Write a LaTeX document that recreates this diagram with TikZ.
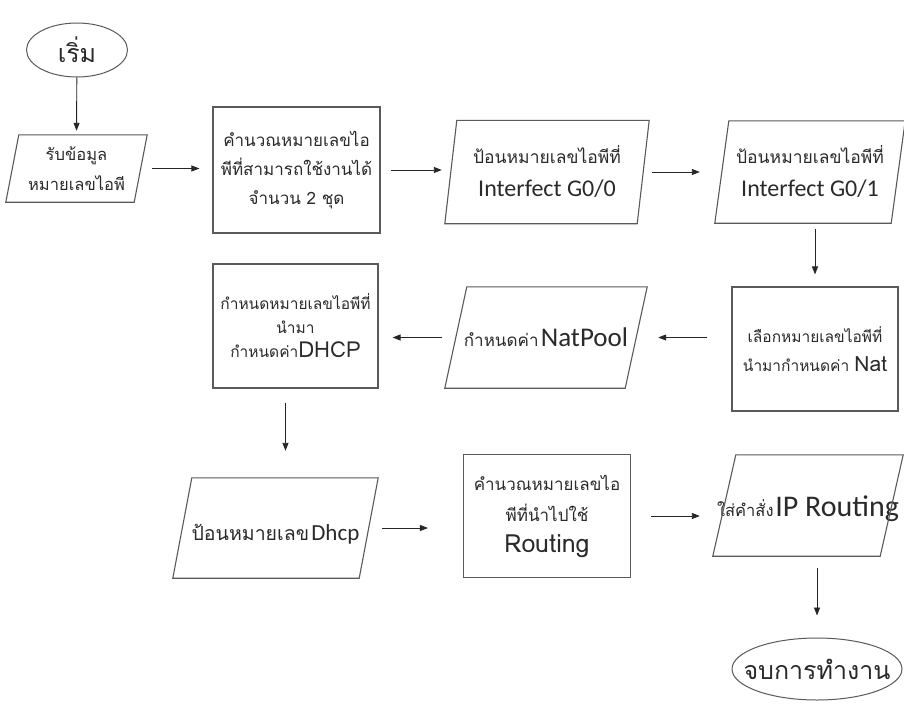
\documentclass[tikz,border=0pt]{standalone}
\usepackage{fontspec}
\setmainfont{Carlito}
\newfontfamily\thai[Script=Thai]{Loma}
\usetikzlibrary{arrows.meta,shapes.geometric}
\definecolor{ink}{HTML}{2A2A2A}
\definecolor{edge}{HTML}{5A5A5A}
\tikzset{
  every node/.style={text=ink, align=center, inner sep=0pt},
  box/.style={draw=edge, line width=1.1pt, minimum width=#1},
  iobox/.style={minimum width=#1},
  oval/.style={draw=edge, line width=1pt, ellipse, inner xsep=-16pt, inner ysep=-4pt},
  arr/.style={draw=black!85, line width=0.9pt, -{Triangle[length=8pt,width=6pt]}},
  io/.style={draw=edge, line width=1.1pt, line join=miter},
}
\newcommand{\thx}[2]{{\thai\fontsize{#1}{#1}\selectfont #2}}
\newcommand{\lat}[2]{{\fontsize{#1}{#1}\selectfont #2}}
\begin{document}
\begin{tikzpicture}[x=1pt,y=-1pt]
\useasboundingbox (0,0) rectangle (904,704);
\fill[white] (0,0) rectangle (904,704);

% terminals
\node[oval, minimum width=101pt, minimum height=54pt, font=\thai\fontsize{25}{28}\selectfont] (e1) at (77,50) {เริ่ม};
\node[oval, minimum width=170pt, minimum height=62pt, font=\thai\fontsize{25}{28}\selectfont] (e2) at (817,669) {จบการทำงาน};

% process boxes
\node[box=167pt, minimum height=126pt, font=\thai\fontsize{17}{29}\selectfont] (b2) at (296.5,170)
  {คำนวณหมายเลขไอ\\พีที่สามารถใช้งานได้\\จำนวน 2 ชุด};
\node[box=166pt, minimum height=124pt, font=\thai\fontsize{15.5}{29}\selectfont] (b5) at (815,349)
  {เลือกหมายเลขไอพีที่\\นำมากำหนดค่า \lat{21}{Nat}};
\node[box=165pt, minimum height=124pt, font=\thai\fontsize{15.5}{24}\selectfont] (b7) at (295.5,326)
  {กำหนดหมายเลขไอพีที่\\นำมา\\กำหนดค่า\lat{22}{DHCP}};
\node[box=167pt, minimum height=123pt] (b9) at (547,516) {};
\node[font=\thai\fontsize{17}{31}\selectfont] (b9t) at (b9.center)
  {คำนวณหมายเลขไอ\\พีที่นำไปใช้\\\lat{25}{Routing}};

% input/output blocks (outlined below as parallelograms)
\node[iobox=141pt, minimum height=67pt, font=\thai\fontsize{16.5}{30}\selectfont] (p1) at (76.5,168.5) {รับข้อมูล\\หมายเลขไอพี};
\node[iobox=204pt, minimum height=103pt, font=\fontsize{24}{33}\selectfont] (p3) at (547,172)
  {\thx{17.5}{ป้อนหมายเลขไอพีที่}\\Interfect G0/0};
\node[iobox=190pt, minimum height=102pt, font=\fontsize{24}{33}\selectfont] (p4) at (810,172)
  {\thx{17.5}{ป้อนหมายเลขไอพีที่}\\Interfect G0/1};
\node[iobox=202pt, minimum height=101pt] (p6) at (546,337.5)
  {\thx{17}{กำหนดค่า} \lat{27}{NatPool}};
\node[iobox=205pt, minimum height=100pt] (p8) at (275.5,528) {};
\node (p8t) at ([yshift=-6pt]p8.center)
  {\thx{19.5}{ป้อนหมายเลข} \lat{23}{Dhcp}};
\node[iobox=190pt, minimum height=101pt] (p10) at (808,505.5) {};
\node (p10t) at ([yshift=-3pt]p10.center)
  {\thx{16.5}{ใส่คำสั่ง}\,\lat{30}{IP Routing}};

\foreach \n/\s in {p1/13, p3/12, p4/14, p6/22, p8/19, p10/23}
  \draw[io] ([xshift=\s pt]\n.north west) -- (\n.north east)
            -- ([xshift=-\s pt]\n.south east) -- (\n.south west) -- cycle;

% connectors
\draw[arr, shorten >=4pt] (e1) -- (p1.north);
\draw[arr, shorten <=5pt, shorten >=13pt] (p1.east) -- (p1.east -| b2.west);
\draw[arr, shorten <=10pt, shorten >=3pt] (b2.east) -- (b2.east -| p3.west);
\draw[arr, shorten <=3pt, shorten >=15pt] (p3.east) -- (p3.east -| p4.west);
\draw[arr, shorten <=6pt, shorten >=12pt] (b5.north |- p4.south) -- (b5.north);
\draw[arr, shorten <=24pt, shorten >=11pt] (b5.west |- p6.east) -- (p6.east);
\draw[arr, shorten <=3pt, shorten >=14pt] (p6.west) -- (p6.west -| b7.east);
\draw[arr, shorten <=14pt, shorten >=27pt] ([xshift=-10pt]b7.south) -- ([xshift=-10pt]b7.south |- p8.north);
\draw[arr, shorten <=4pt, shorten >=35pt] (p8.east) -- (p8.east -| b9.west);
\draw[arr, shorten <=20pt, shorten >=13pt] (b9.east) -- (b9.east -| p10.west);
\draw[arr, shorten <=12pt, shorten >=22pt] (e2.north |- p10.south) -- (e2.north);
\end{tikzpicture}
\end{document}
